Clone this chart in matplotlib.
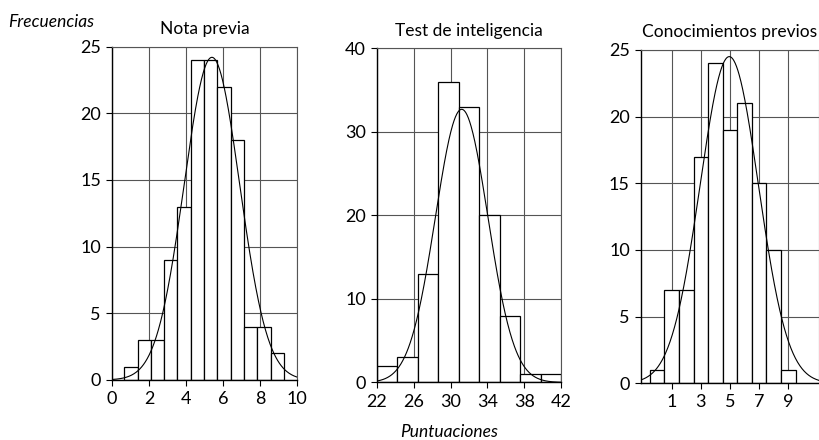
import numpy as np
import matplotlib
matplotlib.use("Agg")
import matplotlib.pyplot as plt

plt.rcParams["font.family"] = ["Lato", "DejaVu Sans"]

# Nota previa
nota_edges = [0.66, 1.38, 2.10, 2.82, 3.54, 4.26, 4.98, 5.70, 6.42, 7.14, 7.86, 8.58, 9.30]
nota_counts = [1, 3, 3, 9, 13, 24, 24, 22, 18, 4, 4, 2]
nota_fit = (5.4, 1.5, 24.2)  # mean, sd, peak

# Test de inteligencia
test_edges = [22, 24.22, 26.44, 28.67, 30.89, 33.11, 35.33, 37.56, 39.78, 42]
test_counts = [2, 3, 13, 36, 33, 20, 8, 1, 1]
test_fit = (31.2, 2.85, 32.7)

# Conocimientos previos
con_edges = [-0.5, 0.5, 1.5, 2.5, 3.5, 4.5, 5.5, 6.5, 7.5, 8.5, 9.5]
con_counts = [1, 7, 7, 17, 24, 19, 21, 15, 10, 1]
con_fit = (4.95, 2.0, 24.5)

panels = [
    dict(title="Nota previa", edges=nota_edges, counts=nota_counts, fit=nota_fit,
         xlim=(0, 10), xticks=[0, 2, 4, 6, 8, 10], ylim=(0, 25),
         yticks=[0, 5, 10, 15, 20, 25], rect=[0.1366, 0.1364, 0.2256, 0.7576]),
    dict(title="Test de inteligencia", edges=test_edges, counts=test_counts, fit=test_fit,
         xlim=(22, 42), xticks=[22, 26, 30, 34, 38, 42], ylim=(0, 40),
         yticks=[0, 10, 20, 30, 40], rect=[0.4598, 0.1307, 0.2244, 0.7595]),
    dict(title="Conocimientos previos", edges=con_edges, counts=con_counts, fit=con_fit,
         xlim=(-1.1, 11.1), xticks=[1, 3, 5, 7, 9], ylim=(0, 25),
         yticks=[0, 5, 10, 15, 20, 25], rect=[0.7817, 0.1289, 0.2171, 0.7576]),
]

fig = plt.figure(figsize=(8.2, 4.4), dpi=100)
grid_color = "#555555"

for p in panels:
    ax = fig.add_axes(p["rect"])
    edges = np.array(p["edges"])
    ax.bar(edges[:-1], p["counts"], width=np.diff(edges), align="edge",
           facecolor="white", edgecolor="black", linewidth=0.9, zorder=2)
    mean, sd, peak = p["fit"]
    x = np.linspace(p["xlim"][0], p["xlim"][1], 400)
    ax.plot(x, peak * np.exp(-0.5 * ((x - mean) / sd) ** 2), color="black",
            linewidth=0.8, zorder=3)
    ax.set_xlim(p["xlim"])
    ax.set_ylim(p["ylim"])
    ax.set_xticks(p["xticks"])
    ax.set_yticks(p["yticks"])
    ax.grid(True, color=grid_color, linewidth=0.8, zorder=0)
    ax.set_axisbelow(True)
    ax.tick_params(direction="out", length=4, width=0.8, labelsize=13, pad=4)
    for side in ["left", "bottom"]:
        ax.spines[side].set_color("black")
        ax.spines[side].set_linewidth(1.0)
    for side in ["top", "right"]:
        ax.spines[side].set_color(grid_color)
        ax.spines[side].set_linewidth(0.8)
    ax.set_title(p["title"], fontsize=12.5, pad=9)

fig.text(0.010, 0.95, "Frecuencias", fontsize=12.5, style="italic", ha="left", va="center")
fig.text(0.548, 0.018, "Puntuaciones", fontsize=12.5, style="italic", ha="center", va="center")

fig.savefig("out.png", dpi=100)
